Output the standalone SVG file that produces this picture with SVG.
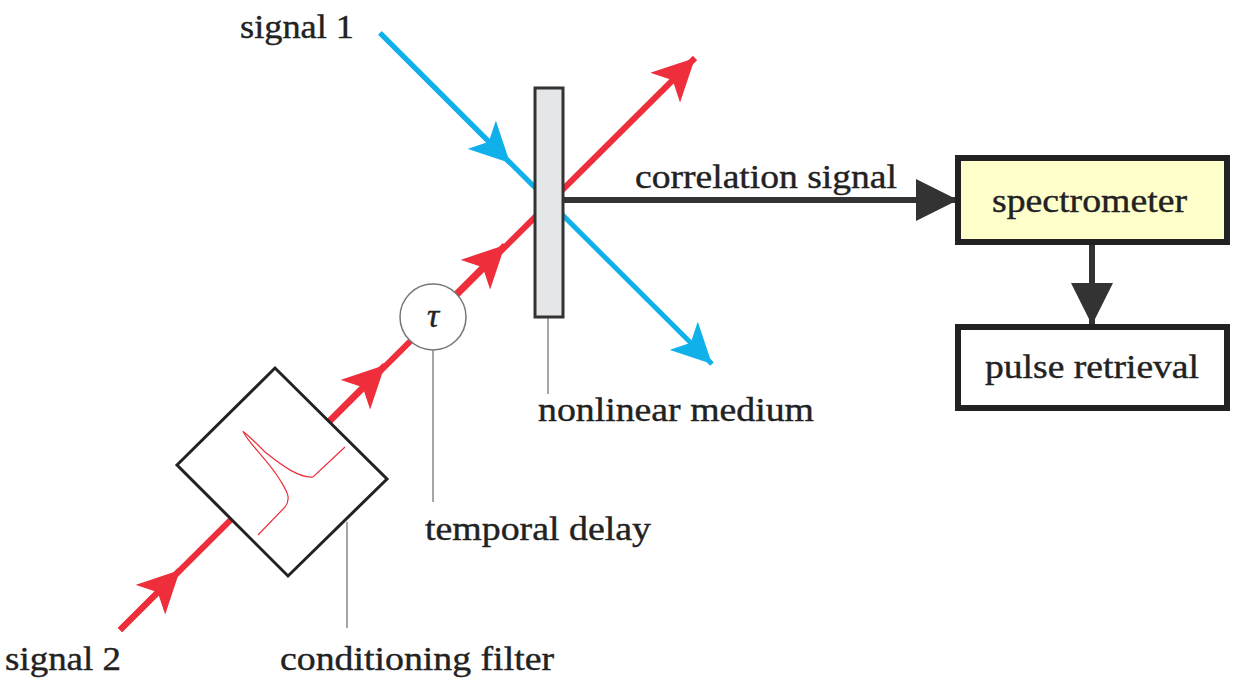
<svg xmlns="http://www.w3.org/2000/svg" width="1245" height="689" viewBox="0 0 1245 689">
<style>
text{font-family:"Liberation Serif","Times New Roman",serif;font-size:34px;fill:#222;stroke:#222;stroke-width:0.4}
.red{stroke:#ee2e3a;stroke-width:6;fill:none}
.blue{stroke:#10b0ea;stroke-width:5;fill:none}
.lead{stroke:#888;stroke-width:1.5}
.box{stroke:#222;stroke-width:6}
</style>
<defs>
<marker id="ar" viewBox="0 0 10 10" refX="10" refY="5" markerWidth="7" markerHeight="7" orient="auto" markerUnits="strokeWidth"><path d="M0,0L10,5L0,10L2.5,5Z" fill="#ee2e3a"/></marker>
<marker id="ab" viewBox="0 0 10 10" refX="10" refY="5" markerWidth="8" markerHeight="8" orient="auto" markerUnits="strokeWidth"><path d="M0,0L10,5L0,10L2.5,5Z" fill="#10b0ea"/></marker>
<marker id="ak" viewBox="0 0 10 10" refX="10" refY="5" markerWidth="7" markerHeight="7" orient="auto" markerUnits="strokeWidth"><path d="M0,0L10,5L0,10Z" fill="#333"/></marker>
</defs>
<g id="connectors">
<line class="red" x1="120" y1="630" x2="695" y2="58" marker-end="url(#ar)"/>
<line class="red" x1="120" y1="630" x2="180" y2="570" marker-end="url(#ar)"/>
<line class="red" x1="300" y1="450" x2="385" y2="365" marker-end="url(#ar)"/>
<line class="red" x1="440" y1="310" x2="505" y2="245" marker-end="url(#ar)"/>
<line class="blue" x1="380" y1="33" x2="712" y2="364" marker-end="url(#ab)"/>
<line class="blue" x1="380" y1="33" x2="510" y2="163" marker-end="url(#ab)"/>
<line x1="563" y1="200" x2="958" y2="200" stroke="#333" stroke-width="6" marker-end="url(#ak)"/>
<line x1="1092" y1="242" x2="1092" y2="325" stroke="#333" stroke-width="6" marker-end="url(#ak)"/>
<line class="lead" x1="433" y1="350" x2="433" y2="502"/>
<line class="lead" x1="347" y1="522" x2="347" y2="628"/>
<line class="lead" x1="548" y1="317" x2="548" y2="394"/>
</g>
<g id="filter">
<polygon points="177,465 275,368 387,479 288,576" fill="#fff" stroke="#222" stroke-width="3"/>
<path d="M258,535 L285,507 C292,498 286,490 280,480 C268,460 250,445 244,433 C240,428 250,437 265,452 C285,468 300,478 313,477 L345,447" fill="none" stroke="#ee2e3a" stroke-width="1.2"/>
</g>
<g id="delay">
<circle cx="433" cy="317" r="33" fill="#fff" stroke="#777" stroke-width="1.5"/>
<text x="433" y="327" text-anchor="middle" font-style="italic">τ</text>
</g>
<g id="medium"><rect x="535" y="88" width="28" height="229" fill="#e5e6e8" stroke="#333" stroke-width="3"/></g>
<g id="spectrometer"><rect class="box" x="958" y="158" width="269" height="84" fill="#ffffcc"/><text x="992" y="212" textLength="195" lengthAdjust="spacingAndGlyphs">spectrometer</text></g>
<g id="retrieval"><rect class="box" x="958" y="327" width="269" height="81" fill="#fff"/><text x="985" y="378" textLength="214" lengthAdjust="spacingAndGlyphs">pulse retrieval</text></g>
<g id="labels">
<text x="240" y="38" textLength="114" lengthAdjust="spacingAndGlyphs">signal 1</text>
<text x="5" y="670" textLength="116" lengthAdjust="spacingAndGlyphs">signal 2</text>
<text x="635" y="188" textLength="262" lengthAdjust="spacingAndGlyphs">correlation signal</text>
<text x="538" y="421" textLength="276" lengthAdjust="spacingAndGlyphs">nonlinear medium</text>
<text x="425" y="540" textLength="226" lengthAdjust="spacingAndGlyphs">temporal delay</text>
<text x="280" y="670" textLength="274" lengthAdjust="spacingAndGlyphs">conditioning filter</text>
</g>
</svg>
